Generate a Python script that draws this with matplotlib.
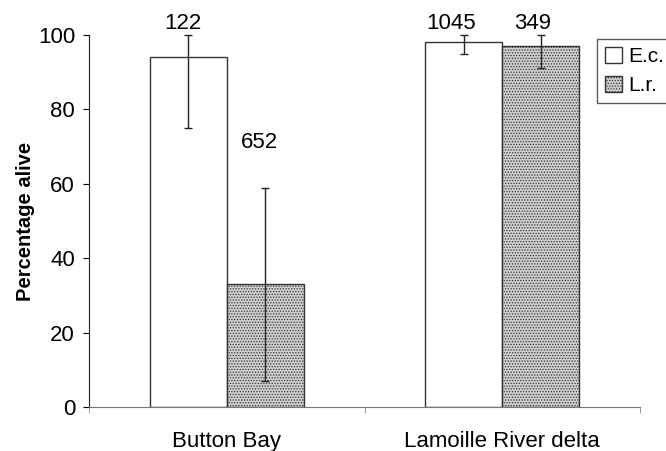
import matplotlib.pyplot as plt
import numpy as np
from matplotlib.patches import Patch

plt.rcParams['font.family'] = ['Liberation Sans', 'DejaVu Sans']
plt.rcParams['hatch.linewidth'] = 0.6

sites = ["Button Bay", "Lamoille River delta"]
species = ["E.c.", "L.r."]
ec_vals = [94, 98]
lr_vals = [33, 97]
ec_err_lo = [19, 3]
ec_err_hi = [6, 2]
lr_err_lo = [26, 6]
lr_err_hi = [26, 3]
ec_n = ["122", "1045"]
lr_n = ["652", "349"]

fig = plt.figure(figsize=(6.66, 4.51), dpi=100)
ax = fig.add_axes([0.1336, 0.0976, 0.8274, 0.8248])

x = np.arange(len(sites))
w = 0.28
ax.bar(x - w / 2, ec_vals, w, color="white", edgecolor="#333333", linewidth=1.0, zorder=2)
ax.bar(x + w / 2, lr_vals, w, color="#cfcfcf", edgecolor="#333333", linewidth=1.0,
       hatch="......", zorder=2)
ax.errorbar(x - w / 2, ec_vals, yerr=[ec_err_lo, ec_err_hi], fmt="none", ecolor="#222222",
            elinewidth=1, capsize=3, zorder=3, clip_on=False)
ax.errorbar(x + w / 2, lr_vals, yerr=[lr_err_lo, lr_err_hi], fmt="none", ecolor="#222222",
            elinewidth=1, capsize=3, zorder=3, clip_on=False)

# sample sizes above bars
ax.text(x[0] - w / 2 - 0.02, 103, ec_n[0], ha="center", va="center", fontsize=16)
ax.text(x[0] + w / 2 - 0.02, 71, lr_n[0], ha="center", va="center", fontsize=16)
ax.text(x[1] - w / 2 - 0.045, 103, ec_n[1], ha="center", va="center", fontsize=16)
ax.text(x[1] + w / 2 - 0.03, 103, lr_n[1], ha="center", va="center", fontsize=16)

ax.set_xlim(-0.5, 1.5)
ax.set_ylim(0, 100)
ax.set_yticks(range(0, 101, 20))
ax.set_xticks(x)
ax.set_xticklabels(sites, fontsize=16)
ax.set_xticks([-0.5, 0.5, 1.5], minor=True)
ax.tick_params(axis="x", which="major", length=0, pad=17)
ax.tick_params(axis="x", which="minor", length=4, direction="out", color="#888888")
ax.tick_params(axis="y", labelsize=16, length=4, direction="out", pad=6)
ax.set_ylabel("Percentage alive", fontsize=14.5, fontweight="bold", labelpad=2)

for s in ["top", "right"]:
    ax.spines[s].set_visible(False)
ax.spines["bottom"].set_color("#777777")
ax.spines["left"].set_color("#222222")

handles = [Patch(facecolor="white", edgecolor="#333333", label=species[0]),
           Patch(facecolor="#cfcfcf", edgecolor="#333333", hatch="......", label=species[1])]
leg = fig.legend(handles=handles, loc="upper left", bbox_to_anchor=(0.896, 0.914),
                 fontsize=15, frameon=True, fancybox=False, edgecolor="#333333",
                 handlelength=0.8, handleheight=0.8, handletextpad=0.3,
                 borderpad=0.4, labelspacing=0.45, borderaxespad=0)

fig.savefig("out.png", dpi=100)
